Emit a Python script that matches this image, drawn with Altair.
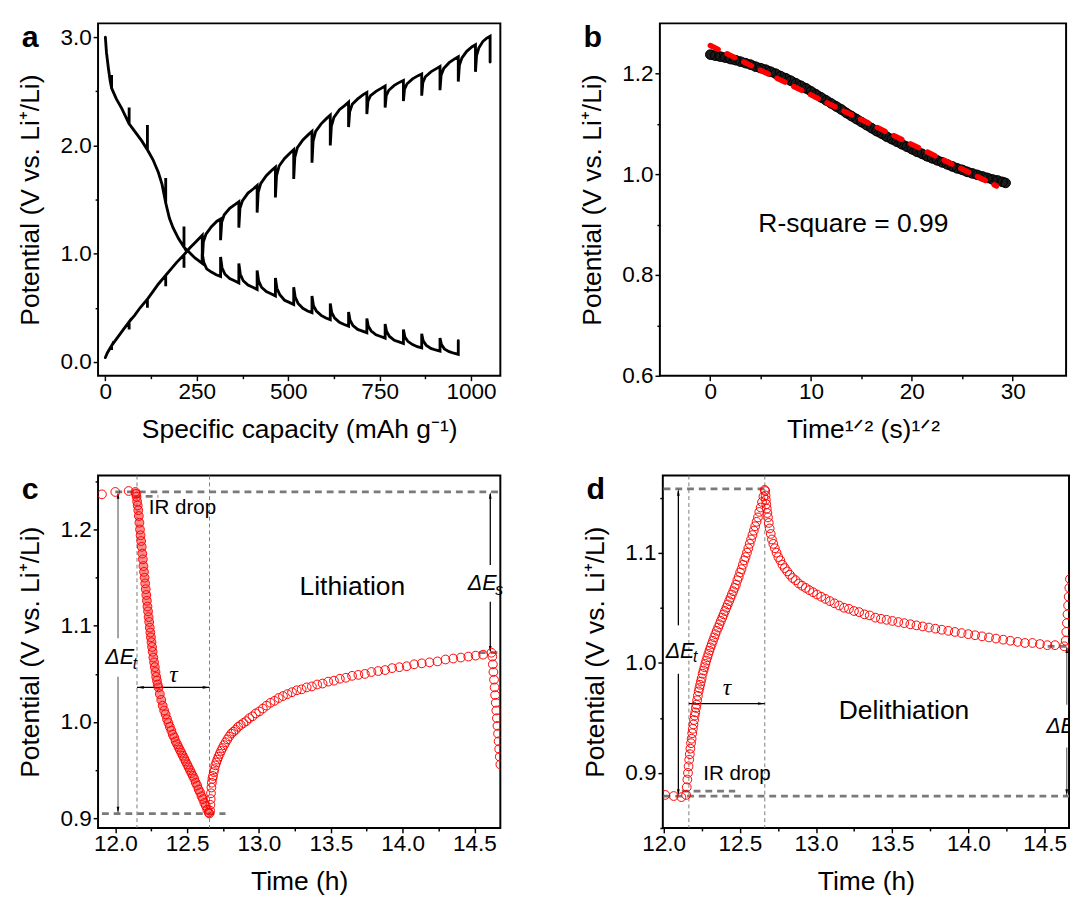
import altair as alt
import pandas as pd

FONT = "Liberation Sans"
SERIF = "Liberation Serif"
RED = "#ff0000"
GRAY = "#7a7a7a"
YTITLE = "Potential (V vs. Li⁺/Li)"

# ---------------- panel a : GITT profile ----------------
A_DISCHARGE = [
    [0, 3.00], [3, 2.86], [8, 2.72], [13, 2.60], [17, 2.53], [17, 2.65], [17, 2.53],
    [30, 2.43], [45, 2.34], [65, 2.20], [65, 2.35], [65, 2.20], [85, 2.11], [100, 2.04],
    [115, 1.96], [115, 2.19], [115, 1.96], [130, 1.87], [145, 1.75], [155, 1.64],
    [165, 1.47], [165, 1.70], [165, 1.47], [175, 1.33], [185, 1.24], [200, 1.14],
    [215, 1.06], [215, 1.25], [215, 1.06], [230, 1.01], [245, 0.96], [265, 0.91], [265, 1.00],
    [269, 0.92], [277, 0.86], [290, 0.83], [303, 0.805], [315, 0.79], [315, 0.97],
    [319, 0.87], [327, 0.81], [340, 0.77], [353, 0.75], [365, 0.73], [365, 0.91],
    [369, 0.81], [377, 0.75], [390, 0.71], [403, 0.69], [415, 0.67], [415, 0.845],
    [419, 0.75], [427, 0.69], [440, 0.65], [453, 0.63], [465, 0.61], [465, 0.775],
    [469, 0.68], [477, 0.62], [490, 0.57], [503, 0.55], [515, 0.53], [515, 0.69],
    [519, 0.60], [527, 0.54], [540, 0.495], [553, 0.47], [565, 0.455], [565, 0.61],
    [569, 0.52], [577, 0.47], [590, 0.43], [603, 0.405], [615, 0.39], [615, 0.54],
    [619, 0.455], [627, 0.405], [640, 0.365], [653, 0.345], [665, 0.33], [665, 0.46],
    [669, 0.385], [677, 0.335], [690, 0.30], [703, 0.285], [715, 0.27], [715, 0.40],
    [719, 0.33], [727, 0.285], [740, 0.25], [753, 0.235], [765, 0.22], [765, 0.35],
    [769, 0.28], [777, 0.235], [790, 0.20], [803, 0.185], [815, 0.17], [815, 0.30],
    [819, 0.23], [827, 0.19], [840, 0.16], [853, 0.14], [865, 0.13], [865, 0.26],
    [869, 0.195], [877, 0.155], [890, 0.125], [903, 0.11], [915, 0.10], [915, 0.22],
    [919, 0.16], [927, 0.12], [940, 0.095], [953, 0.08], [965, 0.07], [965, 0.195],
]
A_CHARGE = [
    [0, 0.04], [5, 0.08], [10, 0.11], [17, 0.15], [17, 0.11], [17, 0.15], [30, 0.21],
    [45, 0.28], [65, 0.37], [65, 0.30], [65, 0.37], [80, 0.43], [95, 0.50], [115, 0.58],
    [115, 0.50], [115, 0.58], [130, 0.65], [145, 0.72], [165, 0.80], [165, 0.70], [165, 0.80],
    [180, 0.86], [195, 0.92], [215, 0.99], [215, 0.87], [215, 0.99], [230, 1.05], [245, 1.10],
    [265, 1.17], [265, 0.93],
    [268, 1.11], [275, 1.18], [290, 1.25], [305, 1.30], [315, 1.32], [315, 1.125],
    [318, 1.29], [325, 1.36], [340, 1.42], [355, 1.455], [365, 1.48], [365, 1.24],
    [368, 1.42], [375, 1.49], [390, 1.56], [405, 1.60], [415, 1.63], [415, 1.38],
    [418, 1.57], [425, 1.65], [440, 1.72], [455, 1.77], [465, 1.80], [465, 1.52],
    [468, 1.72], [475, 1.81], [490, 1.88], [505, 1.93], [515, 1.96], [515, 1.69],
    [518, 1.89], [525, 1.98], [540, 2.05], [555, 2.10], [565, 2.13], [565, 1.84],
    [568, 2.04], [575, 2.13], [590, 2.20], [605, 2.25], [615, 2.28], [615, 2.00],
    [618, 2.18], [625, 2.26], [640, 2.33], [655, 2.37], [665, 2.40], [665, 2.17],
    [668, 2.31], [675, 2.38], [690, 2.43], [705, 2.47], [715, 2.49], [715, 2.29],
    [718, 2.41], [725, 2.46], [740, 2.50], [755, 2.53], [765, 2.55], [765, 2.35],
    [768, 2.46], [775, 2.51], [790, 2.555], [805, 2.585], [815, 2.60], [815, 2.41],
    [818, 2.52], [825, 2.57], [840, 2.615], [855, 2.645], [865, 2.66], [865, 2.46],
    [868, 2.58], [875, 2.635], [890, 2.68], [905, 2.71], [915, 2.73], [915, 2.51],
    [918, 2.65], [925, 2.71], [940, 2.765], [955, 2.80], [965, 2.82], [965, 2.59],
    [968, 2.74], [975, 2.81], [988, 2.87], [1002, 2.91], [1012, 2.93], [1012, 2.68],
    [1015, 2.83], [1021, 2.90], [1032, 2.96], [1042, 2.99], [1052, 3.01], [1052, 2.77],
]
A_X_TICKS = [0, 125, 250, 375, 500, 625, 750, 875, 1000]
A_Y_TICKS = [0, 0.5, 1.0, 1.5, 2.0, 2.5, 3.0]

# ---------------- panel b : E vs t^1/2 ----------------
B_T = [0, 0.5, 1, 1.5, 2, 2.5, 3, 3.5, 4, 4.5, 5, 5.5, 6, 6.5, 7, 7.5, 8, 8.5, 9, 9.5,
       10, 10.5, 11, 11.5, 12, 12.5, 13, 13.5, 14, 14.5, 15, 15.5, 16, 16.5, 17, 17.5,
       18, 18.5, 19, 19.5, 20, 20.5, 21, 21.5, 22, 22.5, 23, 23.5, 24, 24.5, 25, 25.5,
       26, 26.5, 27, 27.5, 28, 28.5, 29, 29.3]
B_V = [1.238, 1.236, 1.234, 1.232, 1.229, 1.227, 1.224, 1.221, 1.218, 1.214, 1.211, 1.208,
       1.204, 1.200, 1.195, 1.191, 1.186, 1.181, 1.176, 1.171, 1.165, 1.159, 1.153, 1.147,
       1.141, 1.135, 1.129, 1.122, 1.116, 1.110, 1.104, 1.098, 1.092, 1.086, 1.081, 1.075,
       1.070, 1.065, 1.060, 1.055, 1.050, 1.045, 1.041, 1.036, 1.032, 1.028, 1.024, 1.020,
       1.016, 1.012, 1.009, 1.005, 1.002, 0.999, 0.996, 0.993, 0.990, 0.988, 0.985, 0.983]
B_FIT_T = [0, 28.4]
B_FIT_V = [1.256, 0.977]
B_X_TICKS = [0, 5, 10, 15, 20, 25, 30]
B_Y_TICKS = [0.6, 0.7, 0.8, 0.9, 1.0, 1.1, 1.2]

# ---------------- panel c : lithiation pulse ----------------
C_PRE = [[11.907, 1.2365], [12.0, 1.239], [12.093, 1.240]]
C_PULSE = [
    [12.140, 1.239], [12.144, 1.237], [12.148, 1.234], [12.152, 1.229], [12.156, 1.225],
    [12.160, 1.220], [12.164, 1.214], [12.168, 1.207], [12.172, 1.200], [12.176, 1.194],
    [12.180, 1.188], [12.184, 1.182], [12.188, 1.175], [12.192, 1.169], [12.196, 1.162],
    [12.200, 1.156], [12.204, 1.150], [12.208, 1.144], [12.212, 1.138], [12.216, 1.132],
    [12.220, 1.126], [12.224, 1.120], [12.228, 1.115], [12.232, 1.109], [12.236, 1.104],
    [12.240, 1.098], [12.244, 1.093], [12.248, 1.088], [12.252, 1.083], [12.256, 1.078],
    [12.260, 1.073], [12.265, 1.067], [12.270, 1.062], [12.275, 1.057], [12.280, 1.052],
    [12.285, 1.047], [12.290, 1.043], [12.295, 1.039], [12.300, 1.036], [12.31, 1.029],
    [12.32, 1.023], [12.33, 1.017], [12.34, 1.012], [12.35, 1.008], [12.36, 1.003],
    [12.37, 0.999], [12.38, 0.995], [12.39, 0.991], [12.40, 0.987], [12.41, 0.984],
    [12.42, 0.980], [12.43, 0.977], [12.44, 0.974], [12.45, 0.971], [12.46, 0.968],
    [12.47, 0.965], [12.48, 0.962], [12.49, 0.959], [12.50, 0.956], [12.51, 0.953],
    [12.52, 0.950], [12.53, 0.947], [12.54, 0.944], [12.55, 0.941], [12.56, 0.937],
    [12.57, 0.934], [12.58, 0.930], [12.59, 0.927], [12.60, 0.923], [12.61, 0.920],
    [12.62, 0.916], [12.63, 0.913], [12.64, 0.909], [12.65, 0.906], [12.655, 0.905],
]
C_RELAX = [
    [12.660, 0.908], [12.662, 0.914], [12.664, 0.920], [12.666, 0.926], [12.669, 0.932],
    [12.672, 0.937], [12.676, 0.941], [12.680, 0.944], [12.685, 0.948], [12.690, 0.951],
    [12.696, 0.955], [12.703, 0.958], [12.710, 0.961], [12.718, 0.964], [12.727, 0.967],
    [12.736, 0.970], [12.746, 0.973], [12.757, 0.976], [12.768, 0.979], [12.780, 0.982],
    [12.793, 0.985], [12.807, 0.988], [12.822, 0.990], [12.838, 0.992], [12.855, 0.995],
    [12.873, 0.997], [12.892, 0.999], [12.912, 1.001], [12.933, 1.004], [12.955, 1.006],
    [12.978, 1.009], [13.002, 1.011], [13.027, 1.014], [13.053, 1.017], [13.080, 1.020],
    [13.108, 1.022], [13.137, 1.025], [13.167, 1.027], [13.198, 1.029], [13.230, 1.031],
    [13.263, 1.033], [13.297, 1.034], [13.332, 1.036], [13.368, 1.037], [13.405, 1.039],
    [13.443, 1.040], [13.482, 1.042], [13.522, 1.043], [13.563, 1.045], [13.605, 1.046],
    [13.648, 1.048], [13.692, 1.049], [13.737, 1.050], [13.783, 1.052], [13.830, 1.053],
    [13.878, 1.054], [13.927, 1.056], [13.977, 1.057], [14.028, 1.058], [14.080, 1.060],
    [14.133, 1.061], [14.187, 1.062], [14.242, 1.063], [14.298, 1.065], [14.352, 1.066],
    [14.405, 1.067], [14.457, 1.068], [14.508, 1.069], [14.560, 1.070], [14.618, 1.072],
]
C_PULSE2 = [
    [14.624, 1.068], [14.628, 1.060], [14.632, 1.052], [14.636, 1.044], [14.640, 1.036],
    [14.644, 1.028], [14.648, 1.020], [14.652, 1.012], [14.656, 1.004], [14.660, 0.996],
    [14.664, 0.988], [14.668, 0.980], [14.672, 0.972], [14.676, 0.964], [14.680, 0.956],
]
C_X_TICKS = [12.0, 12.25, 12.5, 12.75, 13.0, 13.25, 13.5, 13.75, 14.0, 14.25, 14.5]
C_Y_TICKS = [0.9, 0.95, 1.0, 1.05, 1.1, 1.15, 1.2, 1.25]

# ---------------- panel d : delithiation pulse ----------------
D_PRE = [[12.011, 0.880], [12.066, 0.879], [12.117, 0.878]]
D_PULSE = [
    [12.148, 0.880], [12.152, 0.887], [12.156, 0.894], [12.160, 0.900], [12.164, 0.906],
    [12.168, 0.912], [12.172, 0.917], [12.176, 0.922], [12.180, 0.927], [12.184, 0.931],
    [12.188, 0.936], [12.192, 0.940], [12.196, 0.944], [12.200, 0.948], [12.204, 0.952],
    [12.208, 0.955], [12.212, 0.959], [12.216, 0.962], [12.220, 0.966], [12.225, 0.970],
    [12.230, 0.974], [12.235, 0.977], [12.240, 0.980], [12.245, 0.983], [12.250, 0.986],
    [12.256, 0.990], [12.262, 0.993], [12.268, 0.996], [12.274, 0.999], [12.280, 1.002],
    [12.287, 1.005], [12.294, 1.008], [12.301, 1.011], [12.308, 1.014], [12.316, 1.017],
    [12.324, 1.020], [12.332, 1.023], [12.340, 1.026], [12.349, 1.029], [12.358, 1.032],
    [12.367, 1.035], [12.376, 1.038], [12.385, 1.041], [12.394, 1.044], [12.403, 1.047],
    [12.412, 1.050], [12.421, 1.053], [12.430, 1.056], [12.439, 1.059], [12.448, 1.062],
    [12.457, 1.065], [12.466, 1.068], [12.475, 1.071], [12.484, 1.075], [12.493, 1.078],
    [12.502, 1.082], [12.511, 1.085], [12.520, 1.089], [12.529, 1.093], [12.538, 1.096],
    [12.547, 1.100], [12.556, 1.104], [12.565, 1.108], [12.574, 1.112], [12.583, 1.116],
    [12.592, 1.120], [12.601, 1.124], [12.610, 1.128], [12.619, 1.132], [12.628, 1.137],
    [12.637, 1.141], [12.646, 1.146], [12.655, 1.151], [12.663, 1.157],
]
D_RELAX = [
    [12.667, 1.156], [12.669, 1.152], [12.671, 1.148], [12.674, 1.144], [12.677, 1.140],
    [12.681, 1.136], [12.685, 1.132], [12.690, 1.127], [12.696, 1.122], [12.703, 1.117],
    [12.711, 1.112], [12.720, 1.108], [12.730, 1.104], [12.741, 1.100], [12.753, 1.096],
    [12.766, 1.093], [12.780, 1.089], [12.795, 1.086], [12.811, 1.083], [12.828, 1.080],
    [12.846, 1.077], [12.866, 1.075], [12.887, 1.072], [12.909, 1.070], [12.932, 1.068],
    [12.956, 1.066], [12.981, 1.064], [13.007, 1.062], [13.034, 1.060], [13.062, 1.058],
    [13.091, 1.056], [13.121, 1.054], [13.152, 1.052], [13.184, 1.050], [13.216, 1.049],
    [13.249, 1.047], [13.283, 1.046], [13.318, 1.044], [13.353, 1.043], [13.389, 1.041],
    [13.426, 1.040], [13.463, 1.039], [13.501, 1.038], [13.540, 1.037], [13.579, 1.036],
    [13.619, 1.035], [13.659, 1.034], [13.700, 1.033], [13.741, 1.032], [13.783, 1.031],
    [13.825, 1.030], [13.868, 1.029], [13.911, 1.028], [13.955, 1.027], [13.999, 1.026],
    [14.044, 1.025], [14.089, 1.024], [14.135, 1.023], [14.181, 1.022], [14.228, 1.021],
    [14.275, 1.020], [14.323, 1.019], [14.371, 1.018], [14.420, 1.018], [14.469, 1.017],
    [14.518, 1.016], [14.568, 1.016], [14.628, 1.015],
]
D_PULSE2 = [
    [14.638, 1.020], [14.642, 1.028], [14.646, 1.036], [14.650, 1.044], [14.654, 1.052],
    [14.658, 1.060], [14.662, 1.068], [14.666, 1.076],
]
D_X_TICKS = [12.0, 12.25, 12.5, 12.75, 13.0, 13.25, 13.5, 13.75, 14.0, 14.25, 14.5]
D_Y_TICKS = [0.85, 0.9, 0.95, 1.0, 1.05, 1.1, 1.15]

# ---------------- annotations (data coordinates) ----------------
# thick dashed guide lines: [y, x_start, x_end]
C_HGUIDES = [[1.239, 12.0, 14.68], [1.2345, 12.13, 12.30], [0.905, 11.907, 12.767], [1.072, 14.53, 14.68]]
C_VGUIDES = [12.151, 12.656]
D_HGUIDES = [[1.158, 12.0, 12.666], [0.879, 12.0, 14.66], [0.8835, 12.12, 12.47], [1.015, 14.52, 14.66]]
D_VGUIDES = [12.166, 12.664]

W_L, W_R, H = 411, 415, 360

AXIS_BASE = dict(labelFont=FONT, titleFont=FONT, labelFontSize=23, titleFontSize=27,
                 titleFontWeight="normal", labelColor="black", titleColor="black",
                 tickColor="black", tickWidth=1.5, domain=False, grid=False,
                 labelFlush=False, labelOverlap=False)


def make_axis(title, values, major, fmt, label_pad, title_pad):
    return alt.Axis(title=title, values=values, format=fmt,
                    labelExpr=f"({major}) ? datum.label : ''",
                    tickSize={"condition": {"test": major, "value": 5}, "value": 3},
                    labelPadding=label_pad, titlePadding=title_pad, **AXIS_BASE)


def pts(pairs):
    return pd.DataFrame(pairs, columns=["x", "y"])


def letter(ch):
    return alt.Chart(pd.DataFrame({"t": [ch]})).mark_text(
        font=FONT, fontSize=31, fontWeight="bold", align="left", baseline="alphabetic",
        color="black").encode(text="t:N", x=alt.value(-78), y=alt.value(24))


def label(X, Y, x, y, text, size=27, align="center", style="normal", font=FONT,
          dx=0, dy=0, clip=False):
    return alt.Chart(pd.DataFrame({"x": [x], "y": [y], "t": [text]})).mark_text(
        font=font, fontSize=size, align=align, baseline="middle", fontStyle=style,
        color="black", dx=dx, dy=dy, clip=clip).encode(x=X, y=Y, text="t:N")


def hguides(X, Y, rows):
    d = pd.DataFrame(rows, columns=["y", "x", "x2"])
    return alt.Chart(d).mark_rule(color=GRAY, strokeWidth=2.8, strokeDash=[7, 5], clip=True).encode(
        x=X, x2="x2:Q", y=Y)


def vguides(X, xs):
    d = pd.DataFrame({"x": xs})
    return alt.Chart(d).mark_rule(color=GRAY, strokeWidth=1, strokeDash=[4, 3]).encode(x=X)


def vseg(X, Y, x, y1, y2, color):
    d = pd.DataFrame({"x": [x], "y": [y1], "y2": [y2]})
    return alt.Chart(d).mark_rule(color=color, strokeWidth=1.3).encode(x=X, y=Y, y2="y2:Q")


def hseg(X, Y, y, x1, x2, color):
    d = pd.DataFrame({"x": [x1], "x2": [x2], "y": [y]})
    return alt.Chart(d).mark_rule(color=color, strokeWidth=1.3).encode(x=X, x2="x2:Q", y=Y)


HEADS = {
    "up": ("M0,-1L0.38,1L-0.38,1Z", 0, 3.5),
    "down": ("M0,1L0.38,-1L-0.38,-1Z", 0, -3.5),
    "left": ("M-1,0L1,-0.38L1,0.38Z", 3.5, 0),
    "right": ("M1,0L-1,-0.38L-1,0.38Z", -3.5, 0),
}


def head(X, Y, x, y, direction, color):
    path, dx, dy = HEADS[direction]
    d = pd.DataFrame({"x": [x], "y": [y]})
    return alt.Chart(d).mark_point(shape=path, filled=True, size=49, color=color, opacity=1,
                                   strokeWidth=0, xOffset=dx, yOffset=dy).encode(x=X, y=Y)


def circles(X, Y, pairs, color, size=80):
    return alt.Chart(pts(pairs)).mark_point(shape="circle", filled=False, color=color, size=size,
                                            strokeWidth=1, opacity=1, clip=True).encode(x=X, y=Y)


def band(X, Y, pairs, color, width, opacity=1.0):
    d = pts(pairs)
    d["i"] = range(len(d))
    return alt.Chart(d).mark_line(color=color, strokeWidth=width, opacity=opacity,
                                  strokeCap="round", clip=True).encode(x=X, y=Y, order="i:Q")


# ---------------- build panel a ----------------
ax_a_x = make_axis("Specific capacity (mAh g⁻¹)", A_X_TICKS, "datum.value % 250 == 0", "d", 0, 14)
ax_a_y = make_axis(YTITLE, A_Y_TICKS, "datum.value % 1 == 0", ".1f", 2, 16)
Xa = alt.X("x:Q", scale=alt.Scale(domain=[-20, 1080], nice=False, zero=False), axis=ax_a_x)
Ya = alt.Y("y:Q", scale=alt.Scale(domain=[-0.128, 3.128], nice=False, zero=False), axis=ax_a_y)
panel_a = alt.layer(
    band(Xa, Ya, A_DISCHARGE, "black", 2.9),
    band(Xa, Ya, A_CHARGE, "black", 2.9),
    letter("a"),
).properties(width=W_L, height=H)

# ---------------- build panel b ----------------
ax_b_x = make_axis("Time¹ᐟ² (s)¹ᐟ²", B_X_TICKS, "datum.value % 10 == 0", "d", 0, 14)
ax_b_y = make_axis(YTITLE, B_Y_TICKS, "round(datum.value * 10) % 2 == 0", ".1f", 2, 16)
Xb = alt.X("x:Q", scale=alt.Scale(domain=[-5, 35.3], nice=False, zero=False), axis=ax_b_x)
Yb = alt.Y("y:Q", scale=alt.Scale(domain=[0.6, 1.3], nice=False, zero=False), axis=ax_b_y)
b_pairs = [[t, v] for t, v in zip(B_T, B_V)]
b_fit = pd.DataFrame({"x": B_FIT_T, "y": B_FIT_V})
panel_b = alt.layer(
    band(Xb, Yb, b_pairs, "#1c1c1c", 10),
    circles(Xb, Yb, b_pairs, "black", size=95),
    alt.Chart(b_fit).mark_line(color=RED, strokeWidth=5.5, strokeDash=[9, 10], strokeCap="round").encode(
        x=Xb, y=Yb),
    label(Xb, Yb, 14.2, 0.9016, "R-square = 0.99"),
    letter("b"),
).properties(width=W_R, height=H)

# ---------------- build panel c ----------------
ax_c_x = make_axis("Time (h)", C_X_TICKS, "round(datum.value * 100) % 50 == 0", ".1f", 0, 14)
ax_c_y = make_axis(YTITLE, C_Y_TICKS, "round(datum.value * 100) % 10 == 0", ".1f", 2, 16)
Xc = alt.X("x:Q", scale=alt.Scale(domain=[11.88, 14.68], nice=False, zero=False), axis=ax_c_x)
Yc = alt.Y("y:Q", scale=alt.Scale(domain=[0.89, 1.256], nice=False, zero=False), axis=ax_c_y)
ARC = "#707070"
panel_c = alt.layer(
    vguides(Xc, C_VGUIDES),
    hguides(Xc, Yc, C_HGUIDES),
    vseg(Xc, Yc, 12.019, 1.237, 1.087, ARC), vseg(Xc, Yc, 12.019, 1.047, 0.907, ARC),
    head(Xc, Yc, 12.019, 1.239, "up", "black"), head(Xc, Yc, 12.019, 0.905, "down", "black"),
    hseg(Xc, Yc, 1.036, 12.151, 12.656, "black"),
    head(Xc, Yc, 12.151, 1.036, "left", "black"), head(Xc, Yc, 12.656, 1.036, "right", "black"),
    vseg(Xc, Yc, 14.61, 1.237, 1.163, "black"), vseg(Xc, Yc, 14.61, 1.125, 1.074, "black"),
    head(Xc, Yc, 14.61, 1.239, "up", "black"), head(Xc, Yc, 14.61, 1.072, "down", "black"),
    band(Xc, Yc, C_PULSE, "#ff3030", 8, 0.55),
    circles(Xc, Yc, C_PRE + C_PULSE + C_RELAX + C_PULSE2, RED),
    label(Xc, Yc, 12.019, 1.067, "ΔE", size=22, align="left", style="italic", dx=-13),
    label(Xc, Yc, 12.019, 1.067, "t", size=16, align="left", style="italic", dx=15, dy=7),
    label(Xc, Yc, 14.61, 1.144, "ΔE", size=22, align="left", style="italic", dx=-23),
    label(Xc, Yc, 14.61, 1.144, "s", size=16, align="left", style="italic", dx=5, dy=7),
    label(Xc, Yc, 12.404, 1.049, "τ", size=24, font=SERIF, style="italic"),
    label(Xc, Yc, 12.233, 1.222, "IR drop", size=21, align="left"),
    label(Xc, Yc, 13.65, 1.14, "Lithiation", size=27),
    letter("c"),
).properties(width=W_L, height=H)

# ---------------- build panel d ----------------
ax_d_x = make_axis("Time (h)", D_X_TICKS, "round(datum.value * 100) % 50 == 0", ".1f", 0, 14)
ax_d_y = make_axis(YTITLE, D_Y_TICKS, "round(datum.value * 100) % 10 == 0", ".1f", 2, 16)
Xd = alt.X("x:Q", scale=alt.Scale(domain=[11.995, 14.66], nice=False, zero=False), axis=ax_d_x)
Yd = alt.Y("y:Q", scale=alt.Scale(domain=[0.85, 1.17], nice=False, zero=False), axis=ax_d_y)
panel_d = alt.layer(
    vguides(Xd, D_VGUIDES),
    hguides(Xd, Yd, D_HGUIDES),
    vseg(Xd, Yd, 12.097, 1.156, 1.034, "black"), vseg(Xd, Yd, 12.097, 0.990, 0.881, "black"),
    head(Xd, Yd, 12.097, 1.158, "up", "black"), head(Xd, Yd, 12.097, 0.879, "down", "black"),
    hseg(Xd, Yd, 0.963, 12.166, 12.664, "black"),
    head(Xd, Yd, 12.166, 0.963, "left", "black"), head(Xd, Yd, 12.664, 0.963, "right", "black"),
    vseg(Xd, Yd, 14.645, 1.012, 0.962, ARC), vseg(Xd, Yd, 14.645, 0.923, 0.882, ARC),
    head(Xd, Yd, 14.645, 1.015, "up", "black"), head(Xd, Yd, 14.645, 0.879, "down", "black"),
    circles(Xd, Yd, D_PRE + D_PULSE + D_RELAX + D_PULSE2, RED),
    label(Xd, Yd, 12.097, 1.011, "ΔE", size=22, align="left", style="italic", dx=-13),
    label(Xd, Yd, 12.097, 1.011, "t", size=16, align="left", style="italic", dx=15, dy=7),
    label(Xd, Yd, 14.645, 0.9425, "ΔE", size=22, align="left", style="italic", dx=-21, clip=True),
    label(Xd, Yd, 12.416, 0.977, "τ", size=24, font=SERIF, style="italic"),
    label(Xd, Yd, 12.26, 0.899, "IR drop", size=21, align="left"),
    label(Xd, Yd, 13.577, 0.956, "Delithiation", size=27),
    letter("d"),
).properties(width=W_R, height=H)

chart = alt.vconcat(
    alt.hconcat(panel_a, panel_b, spacing=78),
    alt.hconcat(panel_c, panel_d, spacing=78),
    spacing=26,
).properties(
    padding={"left": 8, "top": 4, "right": 0, "bottom": 0}
).configure(font=FONT).configure_view(stroke="black", strokeWidth=2)

chart.save("out.html", embed_options={"renderer": "svg", "actions": False})
